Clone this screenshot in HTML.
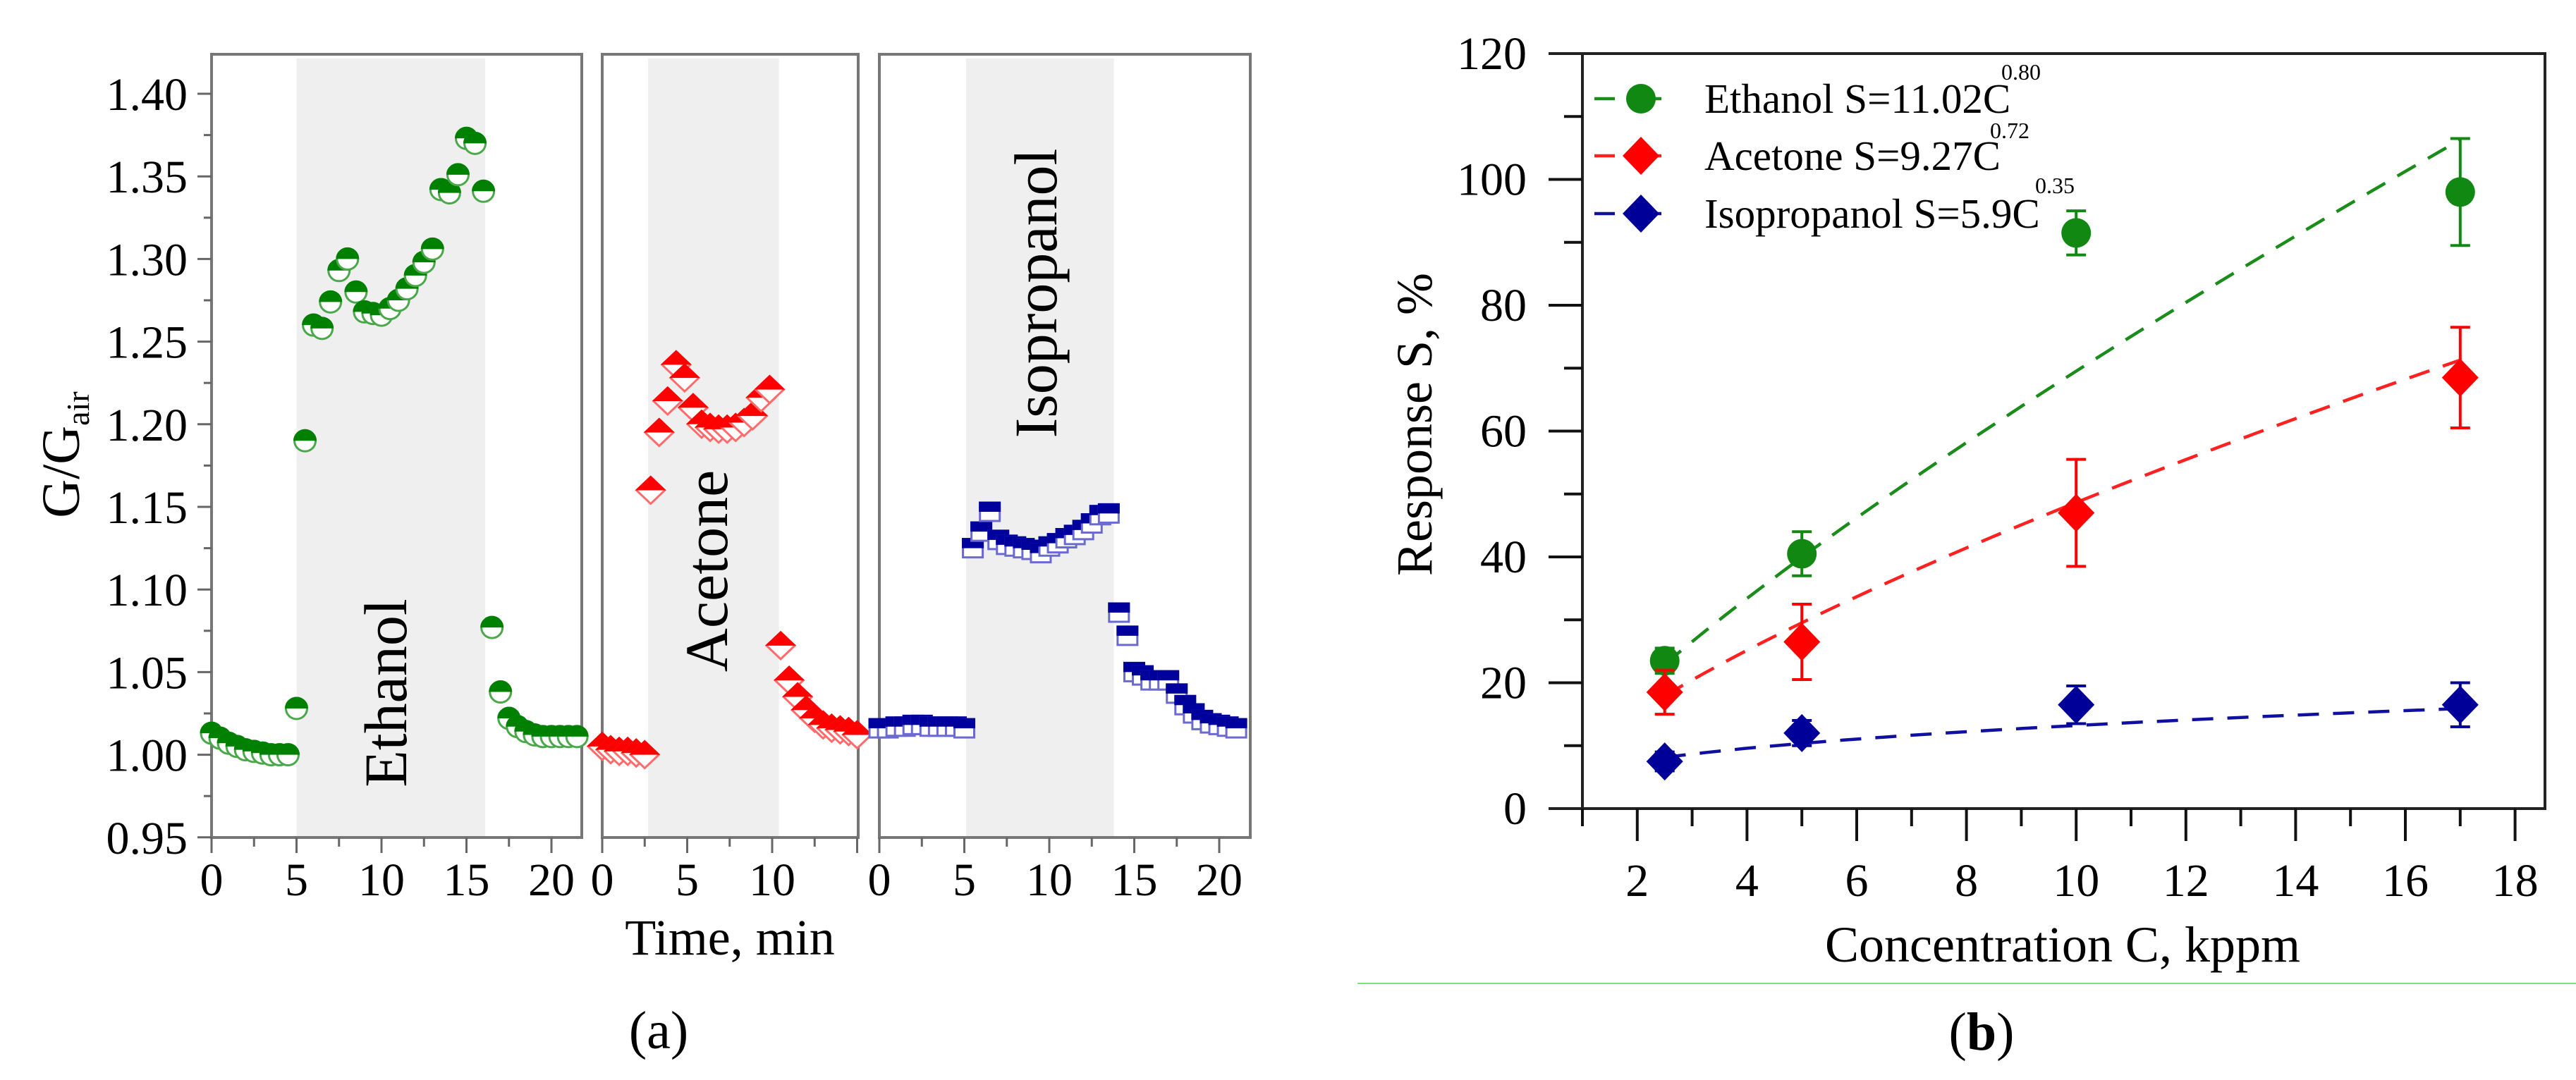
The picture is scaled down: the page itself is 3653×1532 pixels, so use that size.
<!DOCTYPE html>
<html><head><meta charset="utf-8"><style>
html,body{margin:0;padding:0;background:#fff;width:3653px;height:1532px;overflow:hidden}
svg{display:block;font-family:"Liberation Serif",serif}
</style></head><body>
<svg id="chart" width="3653" height="1532" viewBox="0 0 3653 1532" xmlns="http://www.w3.org/2000/svg">
<g id="pa"></g>
<g id="pb"></g>
<text x="934" y="1487" font-size="76" text-anchor="middle">(a)</text>
<text x="2810" y="1489" font-size="76" text-anchor="middle">(<tspan font-weight="bold">b</tspan>)</text>
<line x1="1925" y1="1395" x2="3653" y2="1395" stroke="#7ee07e" stroke-width="2"/>
</svg>
<script>
// ---------- Panel (a) data ----------
const ethT=[0,0.5,1,1.5,2,2.5,3,3.5,4,4.5,5,5.5,6,6.5,7,7.5,8,8.5,9,9.5,10,10.5,11,11.5,12,12.5,13,13.5,14,14.5,15,15.5,16,16.5,17,17.5,18,18.5,19,19.5,20,20.5,21,21.5];
const ethV=[1.013,1.010,1.007,1.005,1.003,1.002,1.001,1.000,1.000,1.000,1.028,1.190,1.260,1.258,1.274,1.293,1.300,1.280,1.268,1.267,1.266,1.270,1.275,1.282,1.290,1.298,1.306,1.342,1.340,1.351,1.373,1.370,1.341,1.077,1.038,1.022,1.017,1.014,1.012,1.011,1.011,1.011,1.011,1.011];
const aceT=[0,0.5,1,1.5,2,2.5,2.85,3.35,3.85,4.35,4.85,5.35,5.85,6.35,6.85,7.35,7.85,8.35,8.85,9.35,9.85,10.5,11,11.5,12,12.5,13,13.5,14,14.5,15];
const aceV=[1.005,1.003,1.002,1.002,1.001,1.000,1.160,1.195,1.214,1.236,1.228,1.210,1.200,1.198,1.197,1.197,1.198,1.201,1.205,1.216,1.221,1.066,1.045,1.035,1.027,1.022,1.018,1.016,1.015,1.014,1.012];
const isoT=[0,0.5,1,1.5,2,2.5,3,3.5,4,4.5,5,5.5,6,6.5,7,7.5,8,8.5,9,9.5,10,10.5,11,11.5,12,12.5,13,13.5,14.1,14.6,15,15.5,16,16.5,17,17.5,18,18.5,19,19.5,20,20.5,21];
const isoV=[1.016,1.016,1.017,1.017,1.018,1.018,1.017,1.017,1.017,1.017,1.016,1.125,1.135,1.147,1.130,1.127,1.126,1.125,1.124,1.122,1.126,1.128,1.131,1.133,1.136,1.140,1.145,1.146,1.086,1.072,1.050,1.048,1.045,1.045,1.045,1.037,1.030,1.025,1.021,1.019,1.018,1.017,1.016];
const aYTicks=[0.95,1.00,1.05,1.10,1.15,1.20,1.25,1.30,1.35,1.40];
const aYLabels=["0.95","1.00","1.05","1.10","1.15","1.20","1.25","1.30","1.35","1.40"];
const p1XTicks=[0,5,10,15,20];
const p2XTicks=[0,5,10];
const p3XTicks=[0,5,10,15,20];
const shadeEth=[5,16.1];
const shadeAce=[2.7,10.4];
const shadeIso=[5.1,13.8];

// ---------- Panel (b) data ----------
const concC=[2.5,5,10,17];
const ethS=[23.5,40.5,91.5,98];
const ethErr=[2,3.5,3.5,8.5];
const aceS=[18.5,26.5,47,68.5];
const aceErr=[3.5,6,8.5,8];
const isoS=[7.5,12,16.5,16.5];
const isoErr=[1.5,2,3,3.5];
const fitA=[11.02,9.27,5.9];
const fitB=[0.80,0.72,0.35];
const bYTicks=[0,20,40,60,80,100,120];
const bXTicks=[2,4,6,8,10,12,14,16,18];

const NS="http://www.w3.org/2000/svg";
function mk(parent,tag,attrs){const e=document.createElementNS(NS,tag);for(const k in attrs)e.setAttribute(k,attrs[k]);parent.appendChild(e);return e;}

// ---- Panel A scales ----
const aTop=77,aBot=1188;
function ay(v){return 133+(1.40-v)/0.05*117.2;}
const panels=[{x0:300,x1:825,ticks:p1XTicks,max:21.5},{x0:854,x1:1217,ticks:p2XTicks,max:15},{x0:1247,x1:1773,ticks:p3XTicks,max:21.5}];
const pxMin=24.1;
function ax(p,t){return panels[p].x0+t*pxMin;}
const pa=document.getElementById('pa');
const defs=mk(document.getElementById('chart'),'defs',{});
const shades=[shadeEth,shadeAce,shadeIso];
panels.forEach((P,i)=>{
  const s=mk(pa,'rect',{x:ax(i,shades[i][0]),y:83,width:(shades[i][1]-shades[i][0])*pxMin,height:aBot-83,fill:'#efefef'});
  
  
  const fr=mk(pa,'rect',{x:P.x0,y:aTop,width:P.x1-P.x0,height:aBot-aTop,fill:'none',stroke:'#777',"stroke-width":4});
  
  
  for(let t=0;t<=P.max;t+=2.5){
    const major=(t%5===0);
    mk(pa,'line',{x1:ax(i,t),x2:ax(i,t),y1:aBot,y2:aBot+(major?22:13),stroke:'#666',"stroke-width":3});
  }
  P.ticks.forEach(t=>{
    const tx=mk(pa,'text',{x:ax(i,t),y:1270,"font-size":66,"text-anchor":"middle"});
    tx.textContent=t;
    
    
  });
});
for(let k=0;k<aYTicks.length;k++){
  const y=ay(aYTicks[k]);
  mk(pa,'line',{x1:280,x2:300,y1:y,y2:y,stroke:'#666',"stroke-width":3});
  if(k<aYTicks.length-1){const ym=ay(aYTicks[k]+0.025);mk(pa,'line',{x1:289,x2:300,y1:ym,y2:ym,stroke:'#666',"stroke-width":3});}
  const tx=mk(pa,'text',{x:266,y:y+23,"font-size":66,"text-anchor":"end"});
  tx.textContent=aYLabels[k];
  
  
}
const cp=mk(defs,'clipPath',{id:'topHalf'});mk(cp,'rect',{x:-50,y:-50,width:100,height:50});
function halfMarker(g,shape,x,y,col,light){
  const grp=mk(g,'g',{transform:`translate(${x},${y})`});
  let d;
  if(shape==='circle'){d='M-15,0a15,15 0 1,0 30,0a15,15 0 1,0 -30,0';}
  else if(shape==='diamond'){d='M0,-19L20,0L0,19L-20,0Z';}
  else{d='M-14,-13H14V13H-14Z';}
  mk(grp,'path',{d:d,fill:'#fff',stroke:light,"stroke-width":3});
  mk(grp,'path',{d:d,fill:col,stroke:col,"stroke-width":3,"clip-path":"url(#topHalf)"});
  return grp;
}
const sets=[[ethT,ethV,'circle','#008000','#4aa84a',0],[aceT,aceV,'diamond','#ff0000','#ff6b6b',1],[isoT,isoV,'square','#00009c','#6a6ad0',2]];
sets.forEach(S=>{
  const g=mk(pa,'g',{});
  
  
  for(let i=0;i<S[0].length;i++){
    const m=halfMarker(g,S[2],ax(S[5],S[0][i]),ay(S[1][i]),S[3],S[4]);
    
    
  }
});
function txt(parent,x,y,size,str,name,extra){const t=mk(parent,'text',Object.assign({x:x,y:y,"font-size":size},extra||{}));t.textContent=str;return t;}
txt(pa,0,0,86,'Ethanol','ethanol-label',{transform:'translate(576,983) rotate(-90)',"text-anchor":"middle"});
txt(pa,0,0,86,'Acetone','acetone-label',{transform:'translate(1031,810) rotate(-90)',"text-anchor":"middle"});
txt(pa,0,0,86,'Isopropanol','isopropanol-label',{transform:'translate(1498,416) rotate(-90)',"text-anchor":"middle"});
txt(pa,1035,1354,72,'Time, min','x-axis-title',{"text-anchor":"middle"});
const yt=txt(pa,0,0,76,'G/G','y-axis-title',{transform:'translate(112,645) rotate(-90)',"text-anchor":"middle"});
const sub=mk(yt,'tspan',{"font-size":46,dy:14});sub.textContent='air';

// ---- Panel B ----
const pb=document.getElementById('pb');
const bL=2244,bR=3609,bT=76,bB=1147;
function bx(c){return bL+(c-1)*77.8;}
function by(s){return bB-s*8.925;}
const fb=mk(pb,'rect',{x:bL,y:bT,width:bR-bL,height:bB-bT,fill:'none',stroke:'#222',"stroke-width":4});


mk(pb,'line',{x1:2196,x2:bL,y1:bB,y2:bB,stroke:'#222',"stroke-width":4});
mk(pb,'line',{x1:2196,x2:bL,y1:bT,y2:bT,stroke:'#222',"stroke-width":4});
for(let v=10;v<120;v+=10){const y=by(v);const major=v%20===0;mk(pb,'line',{x1:bL-(major?48:26),x2:bL,y1:y,y2:y,stroke:'#111',"stroke-width":4});}
bYTicks.forEach(v=>{txt(pb,2165,by(v)+22,66,String(v),'y-tick-label',{"text-anchor":"end"});});
for(let c=1;c<=18;c++){const x=bx(c);const major=c%2===0;mk(pb,'line',{x1:x,x2:x,y1:bB,y2:bB+(major?46:25),stroke:'#111',"stroke-width":4});}
bXTicks.forEach(c=>{txt(pb,bx(c),1271,66,String(c),'x-tick-label',{"text-anchor":"middle"});});
txt(pb,2925,1364,72,'Concentration C, kppm','x-axis-title',{"text-anchor":"middle"});
txt(pb,0,0,72,'Response S, %','y-axis-title',{transform:'translate(2030,602) rotate(-90)',"text-anchor":"middle"});
const colors=['#1a8c1a','#ff2020','#1010a0'];
const fillc=['#118811','#ff0000','#000099'];
const series=[ethS,aceS,isoS];const errs=[ethErr,aceErr,isoErr];
const names=['ethanol','acetone','isopropanol'];
for(let s=0;s<3;s++){
  let d='';
  for(let k=0;k<=40;k++){const c=2.5+(17-2.5)*k/40;const v=fitA[s]*Math.pow(c,fitB[s]);d+=(k?'L':'M')+bx(c).toFixed(1)+','+by(v).toFixed(1);}
  const fl=mk(pb,'path',{d:d,fill:'none',stroke:colors[s],"stroke-width":4.5,"stroke-dasharray":"30,20"});
  
  
}
function bMarker(g,s,x,y){
  if(s===0) return mk(g,'circle',{cx:x,cy:y,r:21,fill:fillc[0]});
  return mk(g,'path',{d:`M${x},${y-27}L${x+26},${y}L${x},${y+27}L${x-26},${y}Z`,fill:fillc[s]});
}
for(let s=0;s<3;s++){
  const g=mk(pb,'g',{});
  
  
  for(let i=0;i<concC.length;i++){
    const x=bx(concC[i]),y1=by(series[s][i]+errs[s][i]),y2=by(series[s][i]-errs[s][i]);
    const eb=mk(g,'path',{d:`M${x},${y1}V${y2}M${x-14},${y1}H${x+14}M${x-14},${y2}H${x+14}`,stroke:fillc[s],"stroke-width":4,fill:'none'});
    
    
    const m=bMarker(g,s,x,by(series[s][i]));
    
    
  }
}
const legTxt=['Ethanol S=11.02C','Acetone S=9.27C','Isopropanol S=5.9C'];
const legExp=['0.80','0.72','0.35'];
const legSupX=[2866,2850,2914];
const legSupY=[103,186,264];
for(let s=0;s<3;s++){
  const y=[140,221,303][s];
  const g=mk(pb,'g',{});
  
  
  mk(g,'line',{x1:2261,x2:2392,y1:y,y2:y,stroke:colors[s],"stroke-width":4.5,"stroke-dasharray":"29,37"});
  bMarker(g,s,2327,y);
  const t=mk(g,'text',{x:2417,y:y+20,"font-size":59});t.textContent=legTxt[s];
  const e=mk(g,'text',{x:legSupX[s],y:legSupY[s]+10,"font-size":32,"text-anchor":"middle"});e.textContent=legExp[s];
}
</script>
</body></html>
